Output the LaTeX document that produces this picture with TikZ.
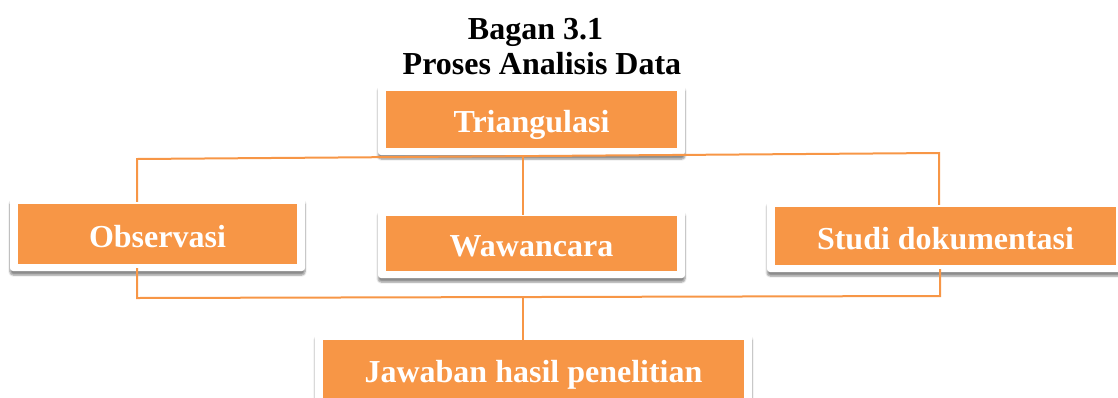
\documentclass[tikz,border=0pt]{standalone}
\usepackage{fontspec}
\setmainfont{Liberation Serif}
\usetikzlibrary{positioning, shadows.blur}
\definecolor{oranye}{RGB}{247,150,70}
\newcommand\kotakfont{\fontsize{32}{36}\selectfont\bfseries}

\begin{document}
\begin{tikzpicture}[
    x=1pt, y=-1pt,
    judul/.style={anchor=base, inner sep=0pt, font=\kotakfont},
    kotak/.style={rectangle, rounded corners=3pt, fill=white, inner sep=0pt,
                  text=white, font=\kotakfont, text height=26pt, text depth=0pt,
                  blur shadow={shadow xshift=0pt, shadow yshift=-4pt,
                               shadow blur steps=6, shadow opacity=45},
                  path picture={\fill[oranye, sharp corners]
                      ([xshift=8pt,yshift=-7pt]path picture bounding box.north west) rectangle
                      ([xshift=-8pt,yshift=7pt]path picture bounding box.south east);}},
    garis/.style={draw=oranye, line width=2pt, line join=miter}
]
\useasboundingbox (0,0) rectangle (1118,397);

%% -- Judul --
\node[judul] (bagan) at (535.5,39) {Bagan 3.1};
\node[judul] (proses) at (542,74) {Proses Analisis Data};

%% -- Kotak --
\node[kotak, minimum width=307pt, minimum height=71pt] (tri) at (531.5,119.5) {Triangulasi};
\node[kotak, minimum width=295pt, minimum height=74pt] (obs) at (157.5,234) {Observasi};
\node[kotak, minimum width=307pt, minimum height=69pt] (waw) at (531.5,243.5) {Wawancara};
\node[kotak, minimum width=357pt, minimum height=72pt] (stu) at (945.5,236) {Studi dokumentasi};
\node[kotak, minimum width=437pt, minimum height=72pt] (jaw) at (533.5,369) {Jawaban hasil penelitian};

%% -- Garis penghubung --
\coordinate (kiriA) at (137,159);
\coordinate (kananA) at (939,153);
\coordinate (tengahA) at (523,156);
\coordinate (kiriB) at (137,298);
\coordinate (kananB) at (940,296);
\coordinate (tengahB) at (523,297);

\draw[garis, shorten <=-5pt, shorten >=-5pt] (kiriA |- obs.north) -- (kiriA) -- (kananA) -- (kananA |- stu.north);
\draw[garis, shorten >=-6pt] (tengahA) -- (tengahA |- waw.north);
\draw[garis, shorten <=-3pt, shorten >=-3pt] (kiriB |- obs.south) -- (kiriB) -- (kananB) -- (kananB |- stu.south);
\draw[garis, shorten >=-7pt] (tengahB) -- (tengahB |- jaw.north);

\end{tikzpicture}
\end{document}
